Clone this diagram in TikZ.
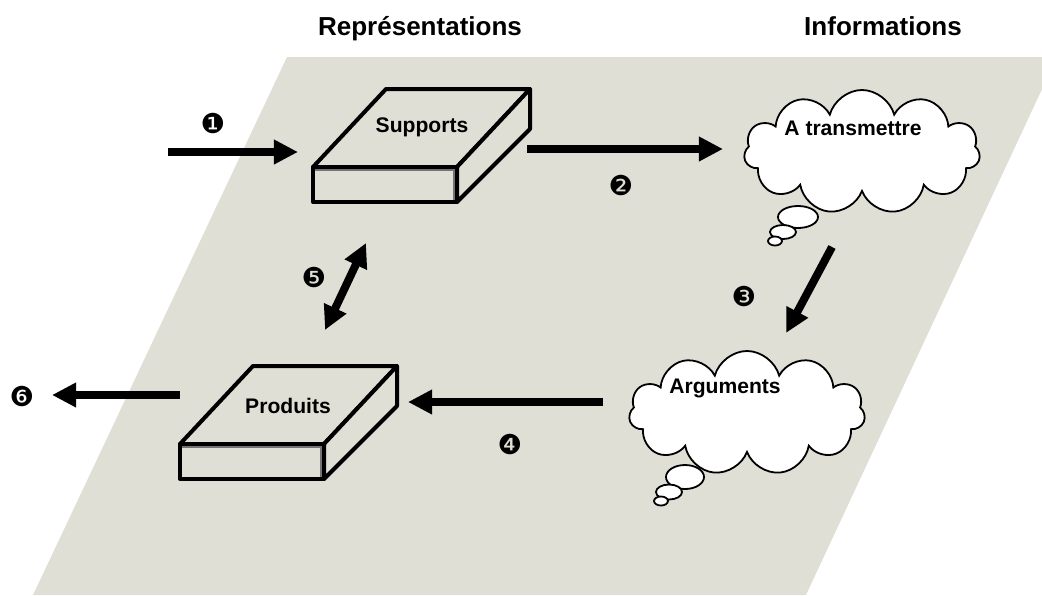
\documentclass[tikz,border=0pt]{standalone}
\usepackage{fontspec}
\setmainfont{Liberation Sans}
\newfontfamily\dingfont{DejaVu Sans}
\usetikzlibrary{arrows.meta,shapes.symbols}
\definecolor{plateau}{RGB}{223,223,214}

\tikzset{
  titre/.style={font=\bfseries\fontsize{18.5}{20}\selectfont, anchor=base},
  etiq/.style={font=\bfseries\fontsize{15}{17}\selectfont},
  numero/.style={font=\dingfont\fontsize{19.5}{21}\selectfont, inner sep=0pt},
  grosse/.style={line width=0.2cm},
  nuage/.style={cloud, draw=black, fill=white, line width=0.045cm, cloud puffs=11,
    aspect=1.9, minimum width=5.9cm, minimum height=3.1cm, inner sep=0pt},
  bulle/.style={draw=black, fill=white, line width=0.045cm},
  livre/.pic={
    \filldraw[fill=plateau, line width=0.1cm, line join=round] (0,0) rectangle (144,-35);
    \filldraw[fill=plateau, line width=0.1cm, line join=round] (0,-35) -- (73,-113) -- (217,-113) -- (144,-35) -- cycle;
    \filldraw[fill=plateau, line width=0.1cm, line join=round] (144,-35) -- (217,-113) -- (217,-73) -- (144,0) -- cycle;
    \draw[black!55, line width=0.06cm] (2,-32) -- (141,-32) -- (141,-2);
  }
}

\begin{document}
\begin{tikzpicture}[x=0.025cm, y=-0.025cm, >={Triangle[length=0.6cm,width=0.58cm]}]
  \useasboundingbox (0,0) rectangle (1042,595);
  \clip (0,0) rectangle (1042,595);
  \fill[plateau] (33,595) -- (287,57) -- (1057,57) -- (806,595) -- cycle;

  \node[titre] (rep) at (420,35) {Représentations};
  \node[titre] (info) at (883,35) {Informations};

  % les deux livres
  \pic at (313,202) {livre};
  \node[etiq] (sup) at (422,127) {Supports};
  \pic at (180,479) {livre};
  \node[etiq] (prod) at (288,406) {Produits};

  % les nuages
  \node[nuage] (trans) at (862,152) {};
  \node[etiq] (transtxt) at (853,128) {A transmettre};
  \draw[bulle] (798,217) ellipse [x radius=20, y radius=11];
  \draw[bulle] (783,232) ellipse [x radius=13, y radius=7];
  \draw[bulle] (775,241) ellipse [x radius=7, y radius=4.5];

  \node[nuage] (arg) at (747,413) {};
  \node[etiq] (argtxt) at (725,388) {Arguments};
  \draw[bulle] (685,477) ellipse [x radius=19, y radius=12];
  \draw[bulle] (669,492) ellipse [x radius=13, y radius=7.5];
  \draw[bulle] (661,501) ellipse [x radius=7, y radius=4.5];

  % les fleches
  \coordinate (d1) at (168,152);  \coordinate (f1) at (298,152);
  \coordinate (d2) at (527,149);  \coordinate (f2) at (723,149);
  \coordinate (d3) at (832,247);  \coordinate (f3) at (786,333);
  \coordinate (d4) at (603,402);  \coordinate (f4) at (408,402);
  \coordinate (d5) at (366,243);  \coordinate (f5) at (325,330);
  \coordinate (d6) at (180,395);  \coordinate (f6) at (52,395);
  \draw[grosse,->] (d1) -- (f1);
  \draw[grosse,->] (d2) -- (f2);
  \draw[grosse,->] (d3) -- (f3);
  \draw[grosse,->] (d4) -- (f4);
  \draw[grosse,<->] (d5) -- (f5);
  \draw[grosse,->] (d6) -- (f6);

  \node[numero] (n1) at (213,124) {❶};
  \node[numero] (n2) at (621,186) {❷};
  \node[numero] (n3) at (744,297) {❸};
  \node[numero] (n4) at (510,445) {❹};
  \node[numero] (n5) at (314,278) {❺};
  \node[numero] (n6) at (22,397) {❻};
\end{tikzpicture}
\end{document}
